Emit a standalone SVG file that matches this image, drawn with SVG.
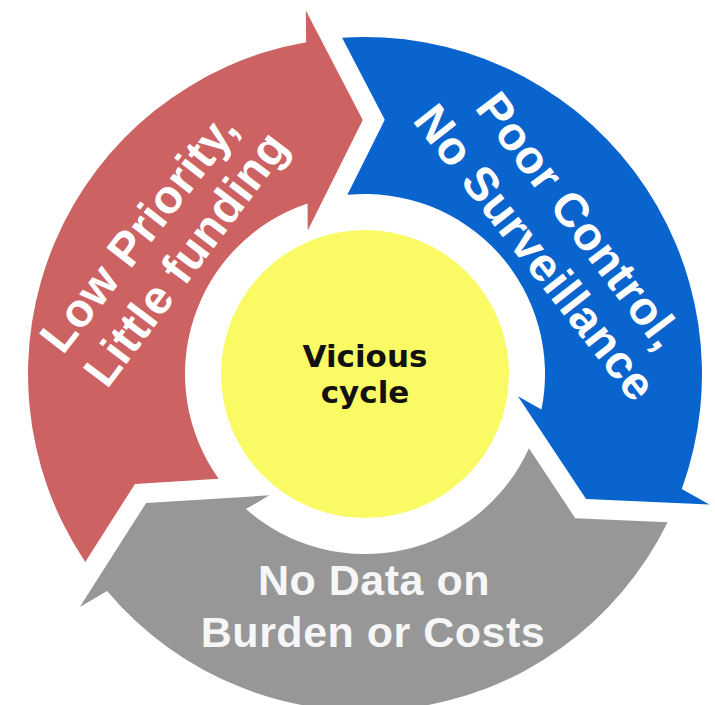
<svg xmlns="http://www.w3.org/2000/svg" xmlns:xlink="http://www.w3.org/1999/xlink" width="715" height="705" viewBox="0 0 715 705">
  <style>
    .ring { font-family: "Liberation Sans", Arial, sans-serif; font-weight: bold; font-size: 47px; fill: #FFFFFF; text-anchor: middle; letter-spacing: 0.5px; }
    .bottom { font-family: "Liberation Sans", Arial, sans-serif; font-weight: bold; font-size: 43px; fill: #F6F6F6; text-anchor: middle; letter-spacing: 0.5px; }
    .center { font-family: "DejaVu Sans", Verdana, sans-serif; font-weight: bold; font-size: 31px; fill: #111111; text-anchor: middle; }
  </style>
  <defs>
    <path id="arrow" d="M -281.36 185.49 A 337 337 0 0 1 -56 -332.31 L -56 -364 L 0 -254 L -56 -144 L -56 -171.07 A 180 180 0 0 0 -147.24 103.53 L -230.97 107.95 Z"/>
  </defs>
  <rect width="715" height="705" fill="#FFFFFF"/>
  <g id="connectors"/>
  <g id="node-low-priority">
    <use xlink:href="#arrow" href="#arrow" transform="translate(365 374) rotate(-0.5)" fill="#CC6262"/>
    <text class="ring" transform="translate(138 232) rotate(-52)" y="17">Low Priority,</text>
    <text class="ring" transform="translate(185 258) rotate(-53)" y="17">Little funding</text>
  </g>
  <g id="node-poor-control">
    <use xlink:href="#arrow" href="#arrow" transform="translate(365 374) rotate(119.5)" fill="#0A64CE"/>
    <text class="ring" transform="translate(580 220) rotate(53)" y="17">Poor Control,</text>
    <text class="ring" transform="translate(536 252) rotate(52)" y="17">No Surveillance</text>
  </g>
  <g id="node-no-data">
    <use xlink:href="#arrow" href="#arrow" transform="translate(365 374) rotate(239.5)" fill="#979797"/>
    <text class="bottom" x="374" y="595">No Data on</text>
    <text class="bottom" x="373" y="647">Burden or Costs</text>
  </g>
  <g id="node-vicious-cycle">
    <circle cx="365" cy="374" r="144" fill="#FAFA64"/>
    <text class="center" x="365" y="367">Vicious</text>
    <text class="center" x="365" y="403">cycle</text>
  </g>
</svg>
